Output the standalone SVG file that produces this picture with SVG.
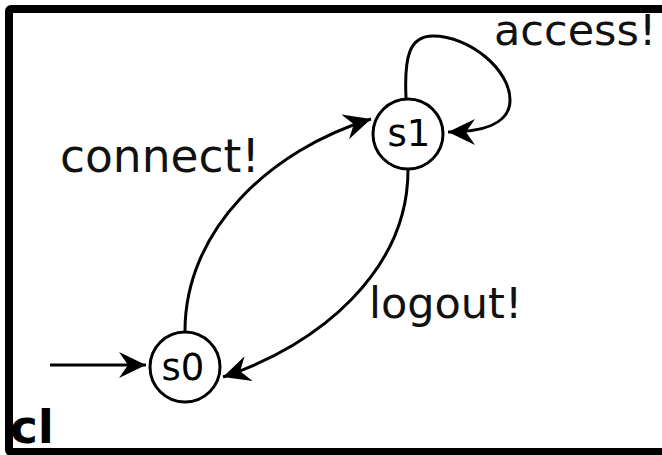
<svg xmlns="http://www.w3.org/2000/svg" width="662" height="455" viewBox="0 0 662 455">
<style>
  .frame { fill: #fff; stroke: #000; stroke-width: 8; }
  .state circle { fill: #fff; stroke: #000; stroke-width: 3; }
  .state text { font-family: "DejaVu Sans", sans-serif; font-size: 37px; fill: #000; text-anchor: middle; }
  .edge { fill: none; stroke: #000; stroke-width: 3; marker-end: url(#arr); }
  .lbl { font-family: "DejaVu Sans", sans-serif; font-size: 43px; fill: #111; }
  .title { font-family: "DejaVu Sans", sans-serif; font-size: 47px; font-weight: bold; fill: #000; }
</style>
<defs>
  <marker id="arr" viewBox="-30 -15 32 30" markerWidth="32" markerHeight="30" refX="0" refY="0" orient="auto" markerUnits="userSpaceOnUse">
    <path d="M0,0 L-27,-13 L-18,0 L-27,13 Z" fill="#000"/>
  </marker>
</defs>
<rect x="0" y="0" width="662" height="455" fill="#fff"/>
<rect class="frame" x="9" y="9" width="700" height="443" rx="2"/>
<g id="connectors">
  <path id="init" class="edge" d="M50,365 L146,365"/>
  <path id="connect" class="edge" d="M185,331 C185,230 270,150 371,119"/>
  <path id="logout" class="edge" d="M408,170 C408,270 320,345 223,377"/>
  <path id="access" class="edge" d="M406,98 C404,55 410,36 433,36 C470,36 510,70 510,100 C510,125 480,132 448,132"/>
  <text class="lbl" x="60" y="172" style="font-size:45.5px">connect!</text>
  <text class="lbl" x="369" y="318">logout!</text>
  <text class="lbl" x="494" y="45">access!</text>
</g>
<g id="s0" class="state">
  <circle cx="185" cy="367" r="35"/>
  <text x="183" y="380">s0</text>
</g>
<g id="s1" class="state">
  <circle cx="408" cy="134" r="35"/>
  <text x="409" y="146">s1</text>
</g>
<text class="title" x="10" y="443">cl</text>
</svg>
